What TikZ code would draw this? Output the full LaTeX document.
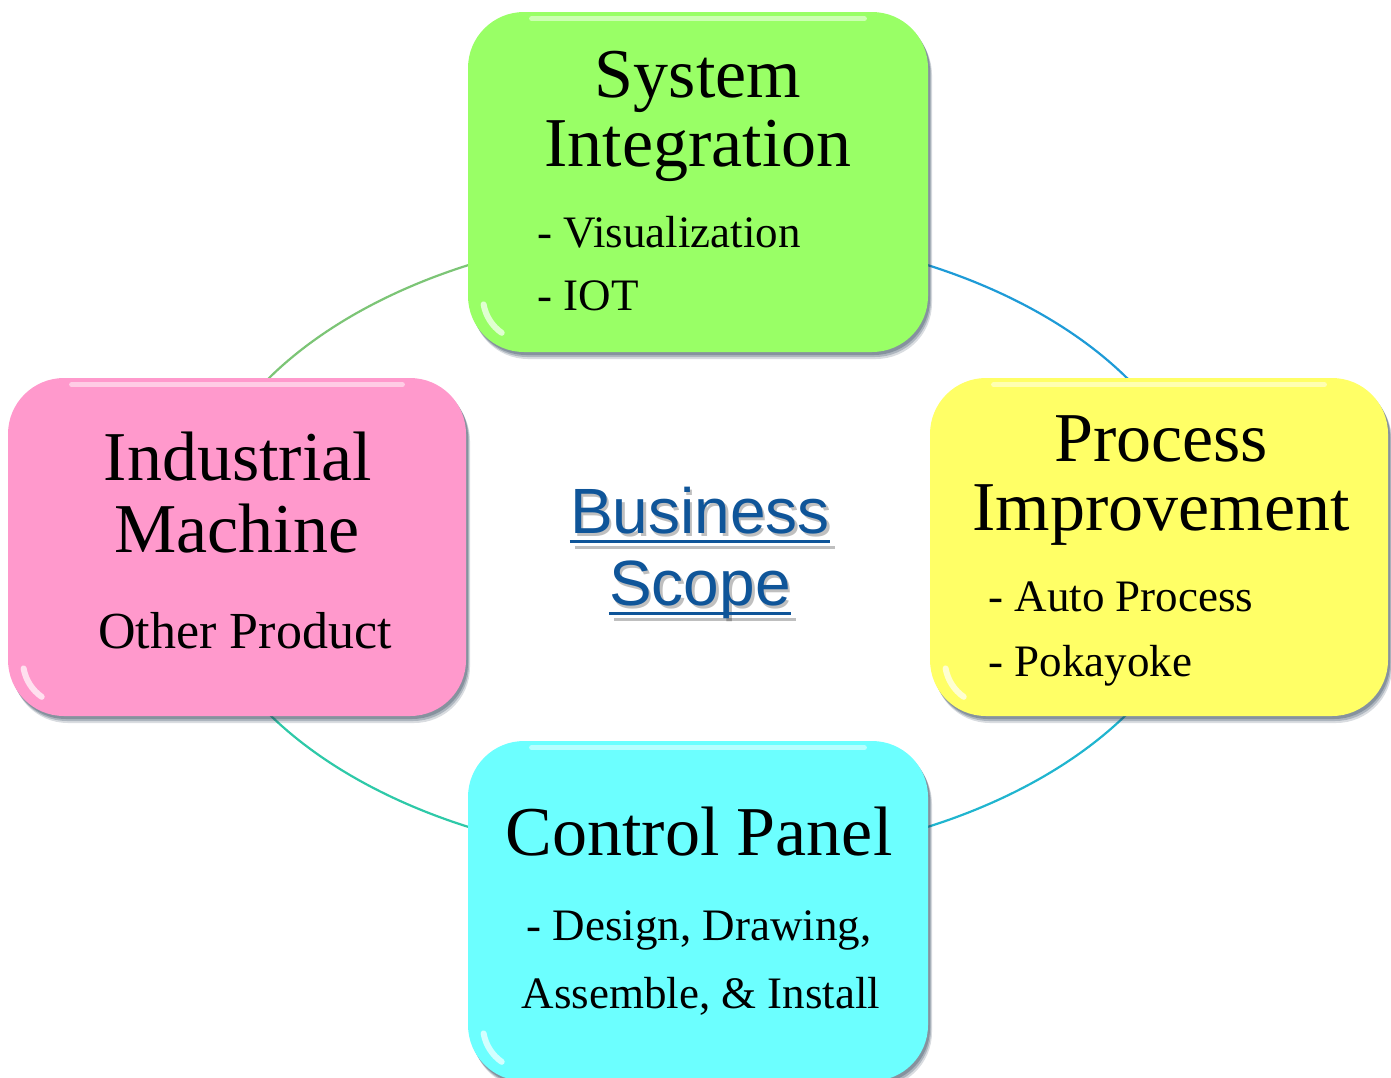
\documentclass[tikz,border=0pt]{standalone}
\usepackage{fontspec}
\setmainfont{Liberation Serif}
\newfontfamily\bsfont{Liberation Sans}
\usetikzlibrary{shadows}
\definecolor{gbox}{HTML}{99FF66}
\definecolor{pbox}{HTML}{FF99CC}
\definecolor{ybox}{HTML}{FFFF66}
\definecolor{cbox}{HTML}{6CFFFF}
\definecolor{arcTL}{HTML}{7CC576}
\definecolor{arcTR}{HTML}{1E9BD7}
\definecolor{arcBL}{HTML}{2EC9A8}
\definecolor{arcBR}{HTML}{20B5CF}
\definecolor{bsblue}{HTML}{0F5599}
\definecolor{shcol}{HTML}{2A3F55}
\begin{document}
\begin{tikzpicture}[x=0.5pt,y=-0.5pt,
  card/.style={rounded corners=28pt, minimum width=230pt, minimum height=170pt, inner sep=0pt,
    general shadow={shadow xshift=2pt, shadow yshift=-3.5pt, fill=shcol, opacity=0.18},
    general shadow={shadow xshift=1.5pt, shadow yshift=-2.5pt, fill=shcol, opacity=0.25},
    general shadow={shadow xshift=1pt, shadow yshift=-1.5pt, fill=shcol, opacity=0.3}},
  ring/.style={line width=1.1pt},
  title/.style={font=\fontsize{35}{40}\selectfont, anchor=base, inner sep=0pt},
  item/.style={font=\fontsize{22.5}{27}\selectfont, anchor=base west, inner sep=0pt},
  itemc/.style={font=\fontsize{22.5}{27}\selectfont, anchor=base, inner sep=0pt},
  bstext/.style={font=\bsfont\fontsize{32}{36}\selectfont, anchor=base, inner sep=0pt, text=bsblue},
  bsshadow/.style={font=\bsfont\fontsize{32}{36}\selectfont, anchor=base, inner sep=0pt, text=black, opacity=0.25},
  gloss/.style={white, line width=2.5pt, line cap=round, opacity=0.5}
]
\useasboundingbox (0,0) rectangle (1391,1077);

% ring behind the cards
\coordinate (ctr) at (698,546);
\draw[ring, arcTL] (698,231) arc[start angle=90, end angle=180, x radius=253.5pt, y radius=157.5pt];
\draw[ring, arcTR] (698,231) arc[start angle=90, end angle=0, x radius=253.5pt, y radius=157.5pt];
\draw[ring, arcBL] (698,861) arc[start angle=270, end angle=180, x radius=253.5pt, y radius=157.5pt];
\draw[ring, arcBR] (698,861) arc[start angle=270, end angle=360, x radius=253.5pt, y radius=157.5pt];

% cards
\node[card, fill=gbox] (top) at (698,182) {};
\node[card, fill=pbox, minimum width=229pt, minimum height=169pt] (left) at (237,547) {};
\node[card, fill=ybox, minimum width=229pt, minimum height=169pt] (right) at (1159,547) {};
\node[card, fill=cbox] (bottom) at (698,911) {};

% gloss highlights
\foreach \c in {top,left,right,bottom}{
  \draw[gloss] ([xshift=32pt,yshift=-3.5pt]\c.north west) -- ([xshift=-32pt,yshift=-3.5pt]\c.north east);
  \draw[gloss, opacity=0.7, line width=3pt] ([xshift=8pt,yshift=24pt]\c.south west) arc[start angle=190, end angle=235, radius=22pt];
}

% top card text
\node[title] (sys) at (698,97) {System};
\node[title] (integ) at (698,166) {Integration};
\node[item] (vis) at (537,247) {- Visualization};
\node[item] (iot) at (537,310) {- IOT};

% left card text
\node[title] (ind) at (238,480) {Industrial};
\node[title] (mach) at (237,552) {Machine};
\node[itemc, font=\fontsize{26}{30}\selectfont] (oth) at (245,648) {Other Product};

% right card text
\node[title] (proc) at (1161,461) {Process};
\node[title] (impr) at (1161,530) {Improvement};
\node[item] (auto) at (988,611) {- Auto Process};
\node[item] (poka) at (988,676) {- Pokayoke};

% bottom card text
\node[title] (ctrl) at (699,855) {Control Panel};
\node[itemc] (design) at (699,940) {- Design, Drawing,};
\node[itemc] (assem) at (701,1008) {Assemble, \& Install};

% centre label
\node[bsshadow] (bus-sh) at (702.5,536) {Business};
\node[bsshadow] (scope-sh) at (702.5,608) {Scope};
\draw[black, opacity=0.25, line width=1.5pt] ([xshift=1.25pt,yshift=-5.5pt]bus-sh.base west) -- ([xshift=1.25pt,yshift=-5.5pt]bus-sh.base east);
\draw[black, opacity=0.25, line width=1.5pt] ([xshift=1.25pt,yshift=-5.5pt]scope-sh.base west) -- ([xshift=1.25pt,yshift=-5.5pt]scope-sh.base east);
\node[bstext] (bus) at (700,533) {Business};
\node[bstext] (scope) at (700,605) {Scope};
\draw[bsblue, line width=1.5pt] ([yshift=-4pt]bus.base west) -- ([yshift=-4pt]bus.base east);
\draw[bsblue, line width=1.5pt] ([yshift=-4pt]scope.base west) -- ([yshift=-4pt]scope.base east);
\end{tikzpicture}
\end{document}
